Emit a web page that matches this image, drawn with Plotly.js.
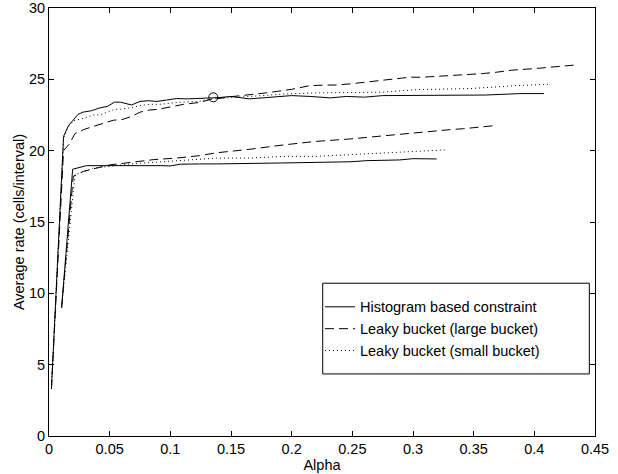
<!DOCTYPE html>
<html>
<head>
<meta charset="utf-8">
<script src="https://cdn.plot.ly/plotly-3.0.1.min.js"></script>
<style>html,body{margin:0;padding:0;background:#fff;}#chart{width:618px;height:474px;}</style>
</head>
<body>
<div id="chart"></div>
<script>
// Histogram based constraint
const histHiX = [0.002, 0.012, 0.016, 0.024, 0.028, 0.035, 0.042, 0.048, 0.054, 0.059, 0.068, 0.075, 0.082, 0.089, 0.097, 0.105, 0.114, 0.124, 0.13, 0.14, 0.15, 0.165, 0.179, 0.19, 0.2, 0.215, 0.232, 0.245, 0.26, 0.275, 0.3, 0.33, 0.36, 0.388, 0.408];
const histHiY = [3.3, 21.0, 21.75, 22.55, 22.7, 22.8, 23.0, 23.1, 23.4, 23.4, 23.2, 23.45, 23.5, 23.45, 23.55, 23.65, 23.63, 23.65, 23.65, 23.72, 23.8, 23.63, 23.72, 23.78, 23.86, 23.8, 23.7, 23.8, 23.75, 23.86, 23.86, 23.86, 23.9, 24.0, 24.0];
const histLoX = [0.0104, 0.0195, 0.031, 0.042, 0.0585, 0.075, 0.0915, 0.1, 0.108, 0.124, 0.138, 0.193, 0.248, 0.262, 0.289, 0.30, 0.3195];
const histLoY = [9.0, 18.7, 18.95, 18.95, 19.0, 19.0, 18.95, 18.93, 19.05, 19.07, 19.07, 19.14, 19.22, 19.3, 19.35, 19.44, 19.42];

// Leaky bucket (large bucket)
const largeHiX = [0.002, 0.012, 0.017, 0.0214, 0.0255, 0.0283, 0.0365, 0.045, 0.05, 0.053, 0.061, 0.068, 0.075, 0.083, 0.09, 0.097, 0.111, 0.124, 0.133, 0.152, 0.179, 0.2, 0.215, 0.229, 0.237, 0.248, 0.262, 0.273, 0.284, 0.2975, 0.308, 0.3195, 0.333, 0.344, 0.357, 0.369, 0.381, 0.40, 0.415, 0.433];
const largeHiY = [3.3, 20.0, 20.5, 21.2, 21.35, 21.47, 21.7, 21.94, 22.06, 22.13, 22.2, 22.4, 22.7, 22.85, 22.9, 23.0, 23.25, 23.38, 23.58, 23.8, 24.05, 24.3, 24.56, 24.6, 24.6, 24.68, 24.8, 24.9, 25.03, 25.15, 25.15, 25.2, 25.28, 25.35, 25.4, 25.5, 25.64, 25.75, 25.85, 26.0];
const largeLoX = [0.0104, 0.02, 0.0283, 0.039, 0.05, 0.0695, 0.086, 0.105, 0.124, 0.138, 0.1657, 0.193, 0.22, 0.248, 0.2755, 0.303, 0.33, 0.3415, 0.369];
const largeLoY = [9.0, 18.2, 18.55, 18.78, 19.0, 19.2, 19.37, 19.48, 19.65, 19.85, 20.1, 20.4, 20.65, 20.82, 21.05, 21.28, 21.47, 21.54, 21.77];

// Leaky bucket (small bucket)
const smallHiX = [0.002, 0.012, 0.0146, 0.0187, 0.02, 0.028, 0.0365, 0.042, 0.0475, 0.054, 0.0585, 0.067, 0.075, 0.083, 0.0915, 0.108, 0.124, 0.135, 0.1657, 0.193, 0.22, 0.248, 0.2755, 0.303, 0.33, 0.347, 0.3855, 0.412];
const smallHiY = [3.3, 20.8, 21.47, 21.94, 22.1, 22.25, 22.5, 22.5, 22.7, 22.9, 22.9, 23.0, 23.16, 23.25, 23.25, 23.4, 23.46, 23.65, 23.8, 23.97, 24.05, 24.05, 24.1, 24.28, 24.33, 24.35, 24.56, 24.65];
const smallLoX = [0.0104, 0.0214, 0.0365, 0.053, 0.0695, 0.086, 0.108, 0.124, 0.138, 0.1657, 0.193, 0.22, 0.248, 0.2755, 0.303, 0.326];
const smallLoY = [9.0, 18.3, 18.78, 18.95, 19.09, 19.18, 19.3, 19.37, 19.48, 19.48, 19.6, 19.6, 19.72, 19.84, 19.95, 20.05];

// Marked point
const markX = [0.1354];
const markY = [23.74];

const xTickVals = [0, 0.05, 0.1, 0.15, 0.2, 0.25, 0.3, 0.35, 0.4, 0.45];
const xTickText = ['0', '0.05', '0.1', '0.15', '0.2', '0.25', '0.3', '0.35', '0.4', '0.45'];
const yTickVals = [0, 5, 10, 15, 20, 25, 30];
const yTickText = ['0', '5', '10', '15', '20', '25', '30'];

const names = ['Histogram based constraint', 'Leaky bucket (large bucket)', 'Leaky bucket (small bucket)'];

const FONT = '"Liberation Sans", Arial, Helvetica, sans-serif';
const solid = {color: '#000', width: 1, dash: 'solid'};
const dashed = {color: '#000', width: 1, dash: '9px,5px'};
const dotted = {color: '#000', width: 1, dash: '1px,3px'};

const traces = [
  {x: histHiX, y: histHiY, mode: 'lines', line: solid, name: names[0], legendgroup: 'a', showlegend: true},
  {x: histLoX, y: histLoY, mode: 'lines', line: solid, name: names[0], legendgroup: 'a', showlegend: false},
  {x: largeHiX, y: largeHiY, mode: 'lines', line: dashed, name: names[1], legendgroup: 'b', showlegend: true},
  {x: largeLoX, y: largeLoY, mode: 'lines', line: dashed, name: names[1], legendgroup: 'b', showlegend: false},
  {x: smallHiX, y: smallHiY, mode: 'lines', line: dotted, name: names[2], legendgroup: 'c', showlegend: true},
  {x: smallLoX, y: smallLoY, mode: 'lines', line: dotted, name: names[2], legendgroup: 'c', showlegend: false},
  {x: markX, y: markY, mode: 'markers', marker: {symbol: 'circle-open', size: 9, color: '#000', line: {width: 1, color: '#000'}}, showlegend: false, hoverinfo: 'skip'}
];

const axisCommon = {
  showline: true, linecolor: '#000', linewidth: 1, mirror: 'ticks',
  ticks: 'inside', ticklen: 5, tickwidth: 1, tickcolor: '#000',
  showgrid: false, zeroline: false,
  tickfont: {family: FONT, size: 14.5, color: '#000'}
};

const layout = {
  width: 618, height: 474,
  margin: {l: 49, r: 23, t: 8, b: 38, pad: 0},
  paper_bgcolor: '#fff', plot_bgcolor: '#fff',
  font: {family: FONT, size: 14.5, color: '#000'},
  showlegend: true,
  xaxis: Object.assign({}, axisCommon, {
    range: [0, 0.45], tickmode: 'array', tickvals: xTickVals, ticktext: xTickText,
    title: {text: 'Alpha', font: {family: FONT, size: 14.5, color: '#000'}, standoff: 3}
  }),
  yaxis: Object.assign({}, axisCommon, {
    range: [0, 30], tickmode: 'array', tickvals: yTickVals, ticktext: yTickText,
    title: {text: 'Average rate (cells/interval)', font: {family: FONT, size: 14.5, color: '#000'}, standoff: 0}
  }),
  shapes: [{
    type: 'rect', xref: 'paper', yref: 'paper',
    x0: 0.5013, x1: 0.9896, y0: 0.145, y1: 0.357,
    line: {color: '#000', width: 1}, fillcolor: '#fff', layer: 'above'
  }],
  legend: {
    x: 0.4963, y: 0.339, xanchor: 'left', yanchor: 'top',
    bgcolor: 'rgba(0,0,0,0)', borderwidth: 0,
    font: {family: FONT, size: 14.5, color: '#000'},
    tracegroupgap: 0
  }
};

Plotly.newPlot('chart', traces, layout, {staticPlot: true, displayModeBar: false});
</script>
</body>
</html>
